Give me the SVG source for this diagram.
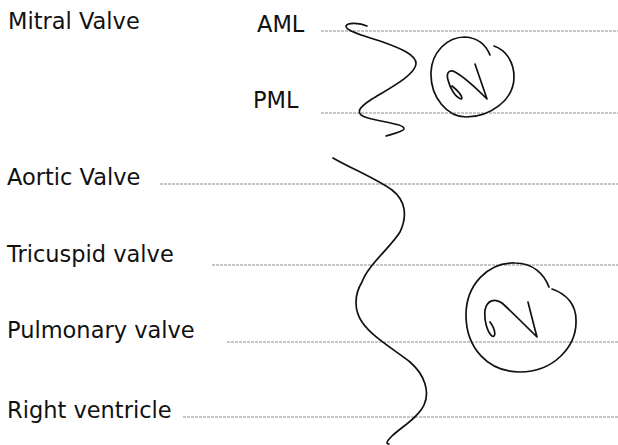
<svg xmlns="http://www.w3.org/2000/svg" width="618" height="445" viewBox="0 0 618 445">
<style>
.lbl{font-family:"DejaVu Sans","Liberation Sans",sans-serif;font-size:22.5px;fill:#111}
.rule{stroke:#8c8c8c;stroke-width:1;stroke-dasharray:3 1;fill:none}
.ink{stroke:#111;stroke-width:1.7;fill:none;stroke-linecap:round;stroke-linejoin:round}
</style>
<rect width="618" height="445" fill="#fff"/>
<g id="mitral"><text class="lbl" x="8" y="29">Mitral Valve</text></g>
<g id="aml"><text class="lbl" x="257" y="32">AML</text><line class="rule" x1="321" y1="31" x2="618" y2="31"/></g>
<g id="pml"><text class="lbl" x="253" y="108">PML</text><line class="rule" x1="321" y1="113" x2="618" y2="113"/></g>
<g id="aortic"><text class="lbl" x="7" y="185">Aortic Valve</text><line class="rule" x1="160" y1="184" x2="618" y2="184"/></g>
<g id="tricuspid"><text class="lbl" x="7" y="262">Tricuspid valve</text><line class="rule" x1="212" y1="265" x2="618" y2="265"/></g>
<g id="pulmonary"><text class="lbl" x="7" y="338">Pulmonary valve</text><line class="rule" x1="227" y1="342" x2="618" y2="342"/></g>
<g id="rv"><text class="lbl" x="7" y="418">Right ventricle</text><line class="rule" x1="183" y1="417" x2="618" y2="417"/></g>
<g id="connectors">
<path class="ink" d="M367,26 C360,23 348,22 346,26 C345,30 360,35 380,41 C400,48 417,55 416,64 C415,75 390,88 372,99 C358,108 354,114 368,118 C382,122 405,124 404,129 C403,132 392,134 386,136"/>
<path class="ink" d="M333,158 C350,168 375,178 392,190 C405,200 408,215 400,232 C390,248 368,265 362,282 C354,295 354,310 362,322 C372,337 395,350 410,362 C425,375 430,392 424,405 C418,418 400,428 392,436 C386,442 386,444 389,444"/>
</g>
<g id="score1">
<path class="ink" d="M490,55 C486,45 478,38 465,37 C447,37 432,52 431,72 C430,98 448,117 466,117 C490,117 514,100 514,77 C514,62 506,50 494,46"/>
<path class="ink" d="M475,64 C479,76 484,90 487,99 C478,90 466,78 455,72 C449,69 446,73 448,80 C450,88 455,97 461,99 C463,99 462,94 452,86"/>
</g>
<g id="score2">
<path class="ink" d="M549,287 C544,274 533,263 515,263 C488,262 466,285 466,315 C466,348 488,372 520,372 C552,372 577,348 576,320 C576,305 567,294 552,289"/>
<path class="ink" d="M528,302 C531,314 534,326 537,337 C526,326 512,312 502,303 C495,298 487,300 485,310 C484,320 487,332 492,336 C496,338 496,330 490,322"/>
</g>
</svg>
